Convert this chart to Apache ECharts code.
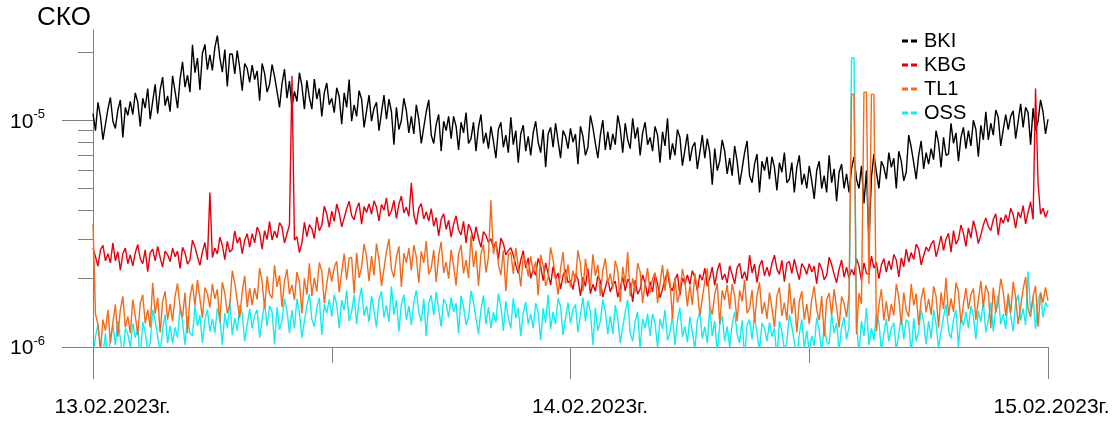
<!DOCTYPE html>
<html>
<head>
<meta charset="utf-8">
<script src="https://cdn.jsdelivr.net/npm/echarts@6/dist/echarts.min.js"></script>
<style>html,body{margin:0;padding:0;background:#fff}#c{width:1120px;height:423px}</style>
</head>
<body>
<div id="c"></div>
<script>
// Values in units of 1e-8, one sample every 7.5 minutes over 48 hours (13.02.2023 00:00 .. 15.02.2023 00:00)
const UNIT = 1e-8;
const HOURS = 48;
const seriesNames = ['BKI', 'KBG', 'TL1', 'OSS'];
const dateTicks = [0, 24, 48];
const dateLabels = ['13.02.2023г.', '14.02.2023г.', '15.02.2023г.'];
const yMajorTicks = [1e-6, 1e-5];
const yMajorExp = ['-6', '-5'];
const yMinorTicks = [2e-6, 3e-6, 4e-6, 5e-6, 6e-6, 7e-6, 8e-6, 9e-6, 2e-5];

const BKI = [
1070,900,1200,1040,820,960,1120,1260,990,920,1110,1230,840,1140,1050,1210,
1060,1320,1200,940,1250,1130,1380,1010,1210,1440,1070,1360,1550,1160,1280,1090,
1570,1340,1130,1510,1810,1400,1580,1330,2150,1620,1880,1360,1970,2160,1670,1940,
1660,2090,2360,1890,1630,2050,1410,1960,1960,1600,2030,1700,1350,1780,1690,1470,
1750,1510,1650,1220,1780,1610,1330,1440,1760,1560,1340,1140,1450,1680,1250,1490,
1140,1340,1210,1620,1420,1120,1500,1260,1120,1520,1240,1380,1040,1320,1460,1170,
1250,1080,1390,1270,960,1320,1140,1510,990,1170,1040,1350,1240,930,1100,1290,
990,1130,1200,900,1080,1290,1010,1240,1090,780,1140,910,1000,1250,1100,880,
1040,870,1170,1010,790,930,1090,1230,860,790,960,1060,730,990,900,1040,
830,1040,940,740,980,880,1080,790,830,980,730,930,1060,790,880,750,
940,810,680,910,980,760,860,720,1030,780,900,650,870,950,730,850,
700,880,990,800,720,910,620,870,930,760,970,810,680,900,850,750,
920,800,870,640,940,850,700,760,1050,930,790,680,860,1000,740,890,
740,870,780,1050,920,720,970,820,750,1020,830,930,700,880,980,780,
840,730,940,860,650,890,770,1020,670,790,700,910,840,630,740,870,
660,760,800,610,720,860,680,830,720,520,750,600,660,820,730,580,
680,570,770,660,520,610,720,810,570,530,640,710,480,660,600,690,
550,690,620,490,650,590,720,530,550,650,480,620,700,520,580,500,
630,540,450,600,660,500,570,480,700,530,610,440,590,640,500,580,
480,610,690,550,500,630,430,600,290,560,710,590,500,660,620,550,
720,620,680,500,730,660,540,590,860,760,650,550,700,810,610,720,
640,750,670,900,790,620,840,700,710,970,790,880,660,840,930,750,
900,770,1000,910,690,950,820,1090,820,970,860,1110,1030,770,910,1060,
910,1040,1100,830,990,1180,930,1140,1080,780,1130,900,990,1230,1090,870,
1010];

const KBG = [
273,250,227,268,281,240,258,235,288,240,263,218,258,273,233,255,
228,260,283,245,233,268,215,260,270,240,278,248,225,265,255,238,
273,250,265,222,275,260,232,242,296,276,250,229,263,289,242,480,
248,273,257,305,281,243,292,262,270,325,287,305,258,296,316,276,
316,288,338,319,270,326,298,357,296,325,303,354,338,287,316,345,
1570,296,307,261,287,355,307,346,333,301,375,326,343,418,385,337,
397,358,427,389,339,370,408,439,380,364,408,432,348,416,392,428,
385,441,413,360,425,401,454,377,398,443,369,426,463,390,414,377,
530,382,347,410,429,367,394,359,408,341,373,309,366,387,330,362,
305,348,379,328,312,358,288,348,329,293,339,302,275,323,311,290,
300,274,291,244,302,286,255,266,274,254,230,211,242,266,223,247,
201,220,207,246,227,196,235,211,188,226,200,212,180,206,220,192,
197,179,210,199,168,203,185,222,172,189,176,206,196,166,183,200,
175,188,195,166,182,204,177,199,191,158,197,171,180,208,191,167,
194,175,209,190,165,180,199,214,184,177,198,210,169,202,190,208,
189,217,203,177,209,197,223,185,202,225,187,216,235,198,210,191,
228,209,190,224,234,200,215,196,254,212,232,192,228,241,206,225,
205,234,254,221,209,241,194,234,238,211,244,218,198,233,224,209,
233,214,227,190,235,222,198,207,249,231,209,192,220,242,203,225,
201,220,207,246,227,196,235,211,209,252,223,236,200,230,245,214,
240,219,256,242,204,247,226,270,237,261,243,284,271,230,253,276,
264,284,295,250,275,309,267,300,317,262,326,284,299,345,317,278,
335,302,361,328,286,312,345,371,340,326,365,387,311,372,351,383,
356,409,383,334,394,371,420,349,393,437,365,1380,530,385,409,373,
400];

const TL1 = [
350,140,125,96,132,118,146,104,128,154,111,146,167,122,136,115,
162,137,113,156,170,127,146,122,192,140,165,116,159,176,132,155,
130,167,191,150,135,174,115,166,190,152,198,163,134,183,172,149,
190,163,180,128,193,173,141,153,217,191,160,134,175,206,150,182,
153,182,162,223,194,148,205,171,164,229,184,207,150,196,220,171,
188,161,214,194,141,201,170,234,168,202,176,236,216,156,190,224,
194,224,239,174,213,258,198,247,248,172,260,202,225,285,251,195,
252,207,286,243,186,221,264,300,220,203,249,278,184,259,235,273,
218,281,250,192,264,235,293,209,223,268,193,254,291,212,237,200,
268,228,187,258,282,211,242,201,310,225,266,186,257,283,213,249,
444,257,293,231,207,267,176,255,262,210,274,226,185,253,237,205,
251,215,238,169,255,229,186,202,275,242,203,170,222,262,190,231,
183,217,194,267,232,176,245,204,183,256,206,231,168,218,246,191,
211,180,240,217,158,226,191,262,167,201,175,234,215,156,189,223,
173,200,213,156,190,230,177,221,193,133,202,157,175,221,194,151,
187,153,211,180,137,164,195,222,151,139,171,191,126,178,161,188,
147,190,168,130,178,159,198,141,148,178,128,168,193,140,158,133,
174,148,122,168,183,137,157,131,192,140,165,116,159,176,132,155,
126,162,185,146,131,168,111,161,173,138,180,149,122,167,156,135,
170,1300,1300,114,173,155,1330,1330,189,1300,1300,117,153,180,131,159,
130,155,138,190,165,125,174,145,136,190,153,172,125,162,183,142,
163,139,185,167,122,174,147,202,137,164,143,192,175,127,155,182,
147,170,181,132,161,196,150,187,174,121,183,142,158,200,176,137,
172,141,194,165,126,151,180,204,147,136,167,186,123,173,157,183,
160];

const OSS = [
88,111,126,101,92,115,79,110,125,102,130,109,91,121,114,100,
127,110,120,88,129,116,96,104,146,130,111,94,120,139,104,124,
104,122,110,148,129,102,137,115,112,152,124,138,104,132,146,117,
133,115,148,135,102,141,121,161,113,134,118,153,141,106,126,147,
121,138,146,110,132,157,124,152,143,103,150,119,131,163,144,115,
145,121,163,141,110,130,152,171,133,123,149,165,113,154,141,162,
136,170,154,121,161,145,178,130,143,170,126,161,183,137,152,129,
168,144,122,162,176,135,153,129,185,139,161,117,155,170,132,152,
125,157,178,143,129,163,112,156,169,138,175,147,123,163,154,135,
165,143,156,115,168,151,125,135,177,157,134,114,146,169,126,150,
121,142,128,172,151,118,159,134,121,164,134,149,112,142,158,126,
140,121,156,143,107,148,128,170,120,143,126,164,151,113,134,157,
127,146,154,116,139,165,130,160,142,102,149,118,130,162,143,114,
137,114,153,133,104,122,143,161,115,106,129,143,98,133,121,140,
112,140,127,100,133,120,146,107,116,138,102,131,149,111,123,105,
136,116,98,131,142,109,123,104,149,112,130,94,125,137,106,123,
100,126,143,114,104,131,90,125,132,108,137,115,96,128,121,106,
128,111,121,89,130,117,97,105,139,123,105,90,114,132,99,118,
95,112,101,135,119,93,125,105,103,140,115,128,96,122,135,108,
123,1880,1880,125,94,130,112,149,102,121,107,139,129,96,114,133,
106,121,128,96,115,137,108,132,128,92,134,106,117,146,129,103,
130,109,146,126,99,117,136,154,118,109,132,146,100,136,124,143,
121,152,137,108,144,129,158,116,132,157,117,149,170,126,140,120,
162,139,117,157,170,131,148,125,215,143,166,120,160,175,135,157,
150];

const colors = { BKI: '#000000', KBG: '#e3000f', TL1: '#f26a1c', OSS: '#12ecf0' };
const AXIS_COLOR = '#808080';
const FONT = '"Liberation Sans", Arial, sans-serif';

function toPairs(arr) {
  const n = arr.length;
  return arr.map((v, i) => [i * HOURS / (n - 1), v * UNIT]);
}

const dataMap = { BKI: BKI, KBG: KBG, TL1: TL1, OSS: OSS };
const drawOrder = ['BKI', 'KBG', 'OSS', 'TL1'];

const chart = echarts.init(document.getElementById('c'), null, { renderer: 'canvas' });
chart.setOption({
  animation: false,
  backgroundColor: '#fff',
  textStyle: { fontFamily: FONT },
  title: {
    text: 'СКО', left: 37, top: 5, padding: 0,
    textStyle: { fontSize: 26, fontWeight: 'normal', color: '#000', fontFamily: FONT }
  },
  legend: {
    data: seriesNames,
    orient: 'vertical', left: 902, top: 31, padding: 0,
    itemWidth: 15, itemHeight: 3, itemGap: 4,
    icon: 'path://M0,0H6V3H0Z M9,0H15V3H9Z',
    textStyle: { fontSize: 20, lineHeight: 20, color: '#000', fontFamily: FONT, padding: [0, 0, 0, 2] }
  },
  grid: { left: 93, right: 72, top: 30, bottom: 76, containLabel: false },
  xAxis: [
    {
      type: 'value', min: 0, max: HOURS, interval: 24, position: 'bottom',
      axisLine: { show: true, onZero: false, lineStyle: { color: AXIS_COLOR, width: 1 } },
      axisTick: { show: true, length: 32, lineStyle: { color: AXIS_COLOR, width: 1 } },
      splitLine: { show: false },
      axisLabel: {
        show: true, margin: 50, showMinLabel: true, showMaxLabel: true,
        formatter: function (v) {
          const k = dateTicks.indexOf(v);
          if (k < 0) return '';
          return '{' + (k === dateTicks.length - 1 ? 'e' : 'd') + '|' + dateLabels[k] + '}';
        },
        rich: {
          d: { fontSize: 21, color: '#000', fontFamily: FONT, padding: [0, 0, 0, 39] },
          e: { fontSize: 21, color: '#000', fontFamily: FONT, padding: [0, 0, 0, 7] }
        }
      }
    },
    {
      type: 'value', min: 0, max: HOURS, interval: 12, position: 'bottom',
      axisLine: { show: false, onZero: false },
      axisTick: { show: true, length: 16, lineStyle: { color: AXIS_COLOR, width: 1 } },
      splitLine: { show: false },
      axisLabel: { show: false }
    }
  ],
  yAxis: [
    {
      type: 'log', logBase: 10, min: 1e-6, max: 2.5e-5, position: 'left',
      axisLine: { show: true, onZero: false, lineStyle: { color: AXIS_COLOR, width: 1 } },
      axisTick: { show: true, length: 31, customValues: yMajorTicks, lineStyle: { color: AXIS_COLOR, width: 1 } },
      splitLine: { show: false },
      axisLabel: {
        show: true, margin: 48, customValues: yMajorTicks,
        formatter: function (v) {
          const k = yMajorTicks.findIndex(t => Math.abs(t - v) / t < 1e-6);
          if (k < 0) return '';
          return '{a|10}{b|' + yMajorExp[k] + '}';
        },
        rich: {
          a: { fontSize: 21, color: '#000', fontFamily: FONT, padding: [3, 0, 0, 0] },
          b: { fontSize: 13, color: '#000', fontFamily: FONT, padding: [0, 0, 12, 0] }
        }
      }
    },
    {
      type: 'log', logBase: 10, min: 1e-6, max: 2.5e-5, position: 'left',
      axisLine: { show: false, onZero: false },
      axisTick: { show: true, length: 15, customValues: yMinorTicks, lineStyle: { color: AXIS_COLOR, width: 1 } },
      splitLine: { show: false },
      axisLabel: { show: false }
    }
  ],
  series: drawOrder.map(name => ({
    name: name,
    type: 'line',
    xAxisIndex: 0, yAxisIndex: 0,
    data: toPairs(dataMap[name]),
    showSymbol: false, symbol: 'none',
    clip: true,
    lineStyle: { color: colors[name], width: 1.4 },
    itemStyle: { color: colors[name] },
    emphasis: { disabled: true }
  }))
});
</script>
</body>
</html>
